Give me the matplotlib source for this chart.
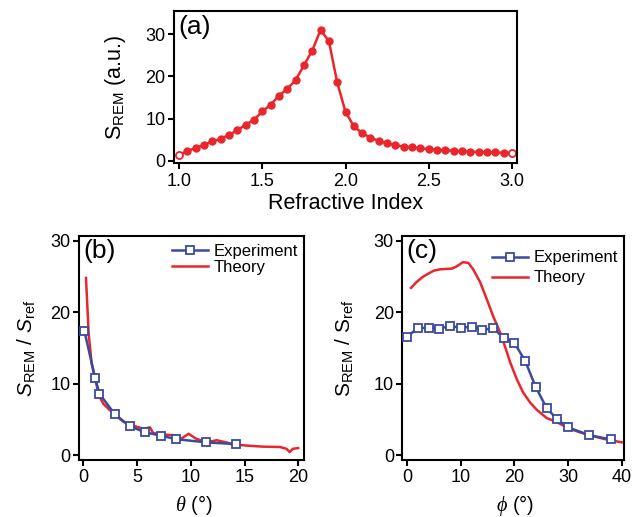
import numpy as np
import matplotlib
matplotlib.use("Agg")
import matplotlib.pyplot as plt
from matplotlib import font_manager

plt.rcParams['font.family'] = ['Liberation Sans', 'DejaVu Sans']
plt.rcParams['mathtext.fontset'] = 'custom'
plt.rcParams['mathtext.rm'] = 'Liberation Sans'
plt.rcParams['mathtext.it'] = 'Liberation Serif:italic'

# pick a sans family that really has an italic face for the italic S in (b)
italic_sans = 'DejaVu Sans'
have = {(f.name, f.style) for f in font_manager.fontManager.ttflist}
for name in ['Liberation Sans', 'Noto Sans', 'Roboto', 'Open Sans', 'Lato', 'Inter']:
    if (name, 'italic') in have:
        italic_sans = name
        break
plt.rcParams['mathtext.sf'] = italic_sans + ':italic'

RED = '#e8262c'
BLUE = '#3a4b9f'

# (a) signal vs refractive index
ri = [1.00, 1.05, 1.10, 1.15, 1.20, 1.25, 1.30, 1.35, 1.40, 1.45,
      1.50, 1.55, 1.60, 1.65, 1.70, 1.75, 1.80, 1.85, 1.90, 1.95,
      2.00, 2.05, 2.10, 2.15, 2.20, 2.25, 2.30, 2.35, 2.40, 2.45,
      2.50, 2.55, 2.60, 2.65, 2.70, 2.75, 2.80, 2.85, 2.90, 2.95, 3.00]
s_ri = [1.5, 2.3, 3.1, 3.8, 4.6, 5.2, 6.2, 7.2, 8.6, 9.7,
        11.7, 13.3, 15.4, 17.1, 19.1, 22.6, 26.1, 31.0, 28.4, 18.6,
        11.6, 8.2, 6.6, 5.5, 4.7, 4.2, 3.7, 3.4, 3.2, 2.95,
        2.8, 2.65, 2.5, 2.4, 2.25, 2.2, 2.1, 2.05, 2.0, 1.95, 1.9]

# (b) vs theta
theta_exp = [0.1, 1.1, 1.5, 2.95, 4.35, 5.75, 7.2, 8.6, 11.45, 14.25]
s_theta_exp = [17.4, 10.8, 8.6, 5.7, 4.05, 3.2, 2.75, 2.25, 1.8, 1.55]
theta_th = [0.25, 0.5, 0.78, 1.09, 1.5, 1.86, 2.4, 2.95, 3.7, 4.5, 5.6, 6.2,
            6.5, 7.4, 8.4, 9.1, 9.8, 10.5, 11.5, 12.4, 13.3, 14.0, 15.2,
            16.7, 18.3, 18.9, 19.2, 19.5, 20.0]
s_theta_th = [24.8, 17.0, 12.8, 10.7, 8.2, 7.2, 6.4, 5.7, 4.7, 4.2, 3.7, 3.9,
              3.1, 2.9, 2.8, 2.3, 3.0, 2.3, 1.8, 2.1, 1.8, 1.5, 1.35,
              1.2, 1.15, 0.9, 0.45, 0.9, 1.0]

# (c) vs phi
phi_exp = [0, 2, 4, 6, 8, 10, 12, 14, 16, 18, 20, 22, 24, 26, 28, 30, 34, 38]
s_phi_exp = [16.6, 17.8, 17.8, 17.7, 18.1, 17.8, 18.0, 17.5, 17.8, 16.4,
             15.7, 13.2, 9.5, 6.6, 5.0, 3.9, 2.8, 2.2]
phi_th = [0.7, 1.7, 3.0, 4.9, 6.1, 8.3, 9.2, 10.4, 11.4, 12.3, 13.6, 14.8,
          16.0, 17.3, 18.2, 19.2, 20.4, 21.6, 22.9, 24.1, 26.0, 28.0, 30.0,
          32.2, 34.0, 36.6, 40.0]
s_phi_th = [23.4, 24.2, 25.0, 25.8, 26.0, 26.1, 26.4, 27.0, 26.9, 26.0, 24.2,
            21.9, 19.5, 17.2, 15.3, 13.0, 10.7, 8.8, 7.4, 6.4, 5.2, 4.6, 3.8,
            3.2, 2.8, 2.3, 1.8]

fig = plt.figure(figsize=(6.36, 5.17), dpi=100)
ax_a = fig.add_axes([0.2736, 0.6847, 0.5393, 0.2940])
ax_b = fig.add_axes([0.1237, 0.1112, 0.3542, 0.4323])
ax_c = fig.add_axes([0.6325, 0.1112, 0.3486, 0.4323])

for ax in (ax_a, ax_b, ax_c):
    for sp in ax.spines.values():
        sp.set_linewidth(1.5)
    ax.tick_params(direction='out', length=4, width=1.5, labelsize=13, pad=2)
    ax.tick_params(axis='x', pad=3)

# panel (a)
ax_a.plot(ri, s_ri, color=RED, lw=1.8, marker='o', ms=5)
ax_a.plot([ri[0], ri[-1]], [s_ri[0], s_ri[-1]], ls='none', marker='o', ms=5,
          mfc='white', mec=RED, mew=1.2)
ax_a.set_xlim(0.97, 3.03)
ax_a.set_ylim(-0.5, 35.5)
ax_a.set_xticks([1.0, 1.5, 2.0, 2.5, 3.0])
ax_a.set_yticks([0, 10, 20, 30])
ax_a.set_xlabel('Refractive Index', fontsize=15.5)
ax_a.set_ylabel(r'S$_{\rm REM}$ (a.u.)', fontsize=15.5)
ax_a.xaxis.set_label_coords(0.5, -0.2)
ax_a.yaxis.set_label_coords(-0.135, 0.5)
ax_a.text(0.012, 0.975, '(a)', transform=ax_a.transAxes, fontsize=19,
          ha='left', va='top')

# panel (b)
ax_b.plot(theta_th, s_theta_th, color=RED, lw=1.8, label='Theory', zorder=2)
ax_b.plot(theta_exp, s_theta_exp, color=BLUE, lw=1.8, marker='s', ms=6,
          mfc='white', mec=BLUE, mew=1.3, label='Experiment', zorder=3)
ax_b.set_xlim(-0.43, 20.53)
ax_b.set_ylim(-0.6, 30.66)
ax_b.set_xticks([0, 5, 10, 15, 20])
ax_b.set_yticks([0, 10, 20, 30])
ax_b.set_xlabel(r'$\theta$ (°)', fontsize=14.5)
ax_b.set_ylabel(r'$\mathsf{S}_{\rm REM}$ / $\mathsf{S}_{\rm ref}$', fontsize=15)
ax_b.xaxis.set_label_coords(0.51, -0.148)
ax_b.yaxis.set_label_coords(-0.186, 0.5)
ax_b.text(0.02, 0.985, '(b)', transform=ax_b.transAxes, fontsize=19,
          ha='left', va='top')
h, l = ax_b.get_legend_handles_labels()
ax_b.legend(h[::-1], l[::-1], loc='upper right', bbox_to_anchor=(1.02, 1.01),
            frameon=False, fontsize=12, handlelength=2.2, handletextpad=0.35,
            labelspacing=0.05, borderaxespad=0.2)

# panel (c)
ax_c.plot(phi_th, s_phi_th, color=RED, lw=1.8, label='Theory', zorder=2)
ax_c.plot(phi_exp, s_phi_exp, color=BLUE, lw=1.8, marker='s', ms=6,
          mfc='white', mec=BLUE, mew=1.3, label='Experiment', zorder=3)
ax_c.set_xlim(-0.93, 40.44)
ax_c.set_ylim(-0.6, 30.66)
ax_c.set_xticks([0, 10, 20, 30, 40])
ax_c.set_yticks([0, 10, 20, 30])
ax_c.set_xlabel(r'$\phi$ (°)', fontsize=14.5)
ax_c.set_ylabel(r'S$_{\rm REM}$ / S$_{\rm ref}$', fontsize=15)
ax_c.xaxis.set_label_coords(0.51, -0.148)
ax_c.yaxis.set_label_coords(-0.213, 0.5)
ax_c.text(0.02, 0.985, '(c)', transform=ax_c.transAxes, fontsize=19,
          ha='left', va='top')
h, l = ax_c.get_legend_handles_labels()
ax_c.legend(h[::-1], l[::-1], loc='upper right', bbox_to_anchor=(1.02, 0.98),
            frameon=False, fontsize=12, handlelength=2.2, handletextpad=0.35,
            labelspacing=0.3, borderaxespad=0.2)

fig.savefig('out.png', dpi=100)
